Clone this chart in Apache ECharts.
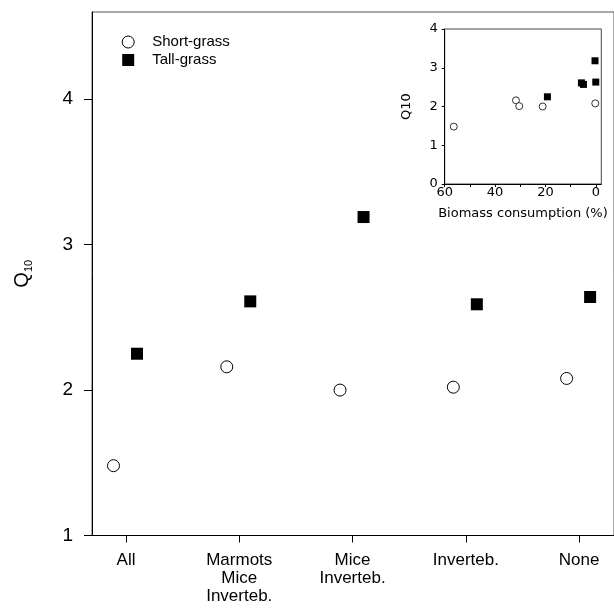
<!DOCTYPE html>
<html>
<head>
<meta charset="utf-8">
<script src="https://cdn.jsdelivr.net/npm/echarts@6/dist/echarts.min.js"></script>
<style>html,body{margin:0;padding:0;background:#fff}#c{width:614px;height:608px}</style>
</head>
<body>
<div id="c"></div>
<script>
// Main panel data
var categories = ['All', 'Marmots\nMice\nInverteb.', 'Mice\nInverteb.', 'Inverteb.', 'None'];
var shortGrassQ10 = [1.48, 2.16, 2.00, 2.02, 2.08];
var tallGrassQ10 = [2.25, 2.61, 3.19, 2.59, 2.64];
var mainYTicks = [1, 2, 3, 4];

// Inset data: [biomass consumption (%), Q10]
var insetShort = [[56.4, 1.48], [31.7, 2.16], [30.4, 2.01], [21.1, 2.00], [0.2, 2.08]];
var insetTall = [[19.2, 2.25], [5.7, 2.61], [4.9, 2.57], [0.3, 3.18], [0.0, 2.63]];
var insetXTicks = [0, 10, 20, 30, 40, 50, 60];
var insetXLabels = [0, 20, 40, 60];

var FONT = 'Liberation Sans, Arial, sans-serif';
var IFONT = 'DejaVu Sans, Verdana, sans-serif';
var chart = echarts.init(document.getElementById('c'), null, {renderer: 'canvas'});

var mainShort = shortGrassQ10.map(function (v, i) { return [i + 1, v]; });
var mainTall = tallGrassQ10.map(function (v, i) { return [i + 1, v]; });

chart.setOption({
  animation: false,
  backgroundColor: '#fff',
  textStyle: {fontFamily: FONT},
  legend: {
    orient: 'vertical', left: 116.7, top: 29.5,
    itemWidth: 12, itemHeight: 12, itemGap: 3,
    textStyle: {fontFamily: FONT, fontSize: 15, color: '#000', padding: [0, 0, 0, 13]},
    data: [
      {name: 'Short-grass', icon: 'circle', itemStyle: {color: '#fff', borderColor: '#000', borderWidth: 1}},
      {name: 'Tall-grass', icon: 'rect', itemStyle: {color: '#000'}}
    ]
  },
  grid: [
    {left: 92, top: 12, right: -4, bottom: 72.5, show: true, borderColor: '#555', borderWidth: 1, backgroundColor: 'transparent'},
    {left: 444.7, top: 29, right: 12.7, bottom: 424, show: true, borderColor: '#444', borderWidth: 1, backgroundColor: '#fff'}
  ],
  xAxis: [
    {
      gridIndex: 0, type: 'value', min: 0.7, max: 5.308,
      axisLine: {show: true, onZero: false, lineStyle: {color: '#000', width: 1}},
      axisTick: {show: true, length: 7, customValues: [1, 2, 3, 4, 5], lineStyle: {color: '#000'}},
      axisLabel: {
        customValues: [1, 2, 3, 4, 5], margin: 16, fontSize: 17, lineHeight: 18, color: '#000', fontFamily: FONT,
        formatter: function (v) { return categories[Math.round(v) - 1]; }
      },
      splitLine: {show: false}
    },
    {
      gridIndex: 1, type: 'value', min: -2.2, max: 60, inverse: true,
      axisLine: {show: true, onZero: false, lineStyle: {color: '#000', width: 1}},
      axisTick: {show: true, length: 3, customValues: insetXTicks, lineStyle: {color: '#000'}},
      axisLabel: {customValues: insetXLabels, margin: 2, fontSize: 13, color: '#000', fontFamily: IFONT},
      splitLine: {show: false},
      name: 'Biomass consumption (%)', nameLocation: 'middle', nameGap: 23,
      nameTextStyle: {fontSize: 13, color: '#000', fontFamily: IFONT}
    }
  ],
  yAxis: [
    {
      gridIndex: 0, type: 'value', min: 1, max: 4.6,
      axisLine: {show: true, onZero: false, lineStyle: {color: '#000', width: 1}},
      axisTick: {show: true, length: 8, customValues: mainYTicks, lineStyle: {color: '#000'}},
      axisLabel: {customValues: mainYTicks, margin: 19, fontSize: 19, color: '#000', fontFamily: FONT},
      splitLine: {show: false},
      name: '{a|Q}{b|10}', nameLocation: 'middle', nameRotate: 90, nameGap: 58,
      nameTextStyle: {
        rich: {
          a: {fontSize: 20, color: '#000', fontFamily: FONT, lineHeight: 24, verticalAlign: 'middle'},
          b: {fontSize: 11, color: '#000', fontFamily: FONT, lineHeight: 24, verticalAlign: 'bottom', padding: [8, 0, 0, 0]}
        }
      }
    },
    {
      gridIndex: 1, type: 'value', min: 0, max: 4, interval: 1,
      axisLine: {show: true, onZero: false, lineStyle: {color: '#000', width: 1}},
      axisTick: {show: true, length: 3, lineStyle: {color: '#000'}},
      axisLabel: {margin: 7, fontSize: 13, color: '#000', fontFamily: IFONT},
      splitLine: {show: false},
      name: 'Q10', nameLocation: 'middle', nameRotate: 90, nameGap: 32,
      nameTextStyle: {fontSize: 13, color: '#000', fontFamily: IFONT}
    }
  ],
  series: [
    {
      name: 'Short-grass', type: 'scatter', xAxisIndex: 0, yAxisIndex: 0,
      symbol: 'circle', symbolSize: 12, symbolOffset: [-12.5, 0],
      itemStyle: {color: '#fff', borderColor: '#000', borderWidth: 1, opacity: 1},
      data: mainShort
    },
    {
      name: 'Tall-grass', type: 'scatter', xAxisIndex: 0, yAxisIndex: 0,
      symbol: 'rect', symbolSize: 12, symbolOffset: [11, 0],
      itemStyle: {color: '#000', opacity: 1},
      data: mainTall
    },
    {
      name: 'inset-short', type: 'scatter', xAxisIndex: 1, yAxisIndex: 1,
      symbol: 'circle', symbolSize: 7,
      itemStyle: {color: '#fff', borderColor: '#000', borderWidth: 0.8, opacity: 1},
      data: insetShort
    },
    {
      name: 'inset-tall', type: 'scatter', xAxisIndex: 1, yAxisIndex: 1,
      symbol: 'rect', symbolSize: 7,
      itemStyle: {color: '#000', opacity: 1},
      data: insetTall
    }
  ]
});
</script>
</body>
</html>
